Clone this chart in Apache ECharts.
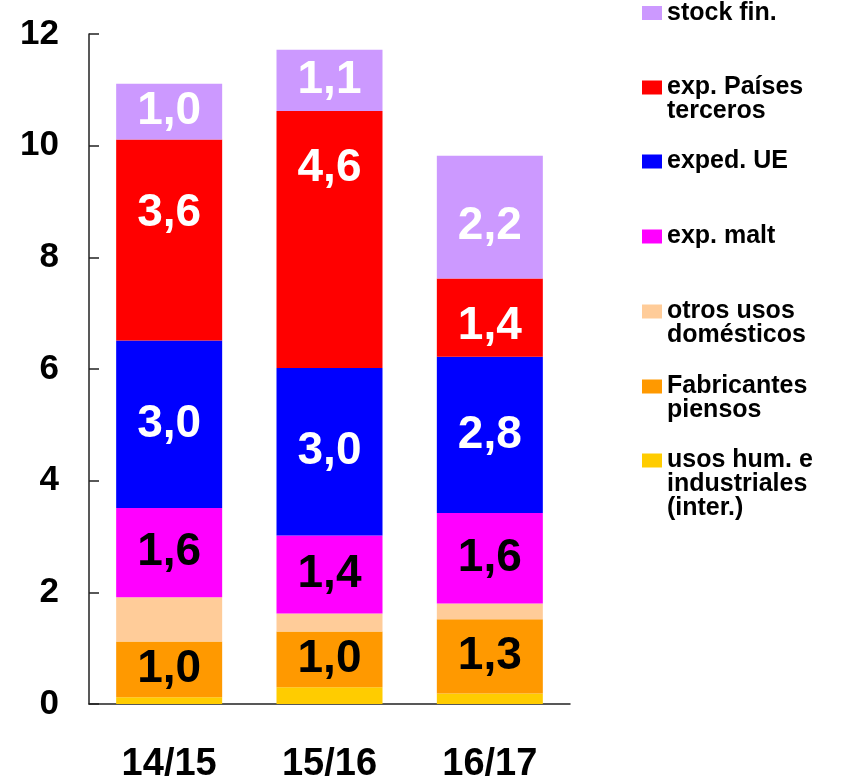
<!DOCTYPE html>
<html>
<head>
    <meta charset="utf-8" />
    <title>Balance cebada</title>
    <style>
        html, body { margin: 0; padding: 0; background: #fff; }
    </style>
</head>
<body>
    <div id="main" style="width:858px;height:780px;"></div>
    <script src="https://cdn.jsdelivr.net/npm/echarts@6/dist/echarts.min.js"></script>
    <script type="text/javascript">
        // campañas
        var campanas = ['14/15', '15/16', '16/17'];

        // series, de abajo a arriba en la pila
        var usosHum = [0.12, 0.30, 0.19];
        var fabPiensos = [1.0, 1.0, 1.33];
        var otrosUsos = [0.79, 0.32, 0.28];
        var expMalt = [1.6, 1.4, 1.62];
        var expedUE = [3.0, 3.0, 2.8];
        var expTerceros = [3.6, 4.6, 1.4];
        var stockFin = [1.0, 1.1, 2.2];

        var yTicks = [0, 2, 4, 6, 8, 10, 12];

        var fuente = "'Liberation Sans', Arial, sans-serif";

        var chartDom = document.getElementById('main');
        var myChart = echarts.init(chartDom);

        function fmt(p) {
            return p.value.toFixed(1).replace('.', ',');
        }

        // desplazamiento de algunas etiquetas (como en el original)
        var desplaz = {
            'exp. Países\nterceros': [-27, -71, 9],
            'stock fin.': [0, 0, 9]
        };

        function serie(nombre, valores, color, etiqueta, colorTexto) {
            var offs = desplaz[nombre] || [0, 0, 0];
            return {
                name: nombre,
                type: 'bar',
                stack: 'total',
                barWidth: 106,
                itemStyle: { color: color },
                label: {
                    show: etiqueta,
                    position: 'inside',
                    formatter: fmt,
                    color: colorTexto,
                    fontFamily: fuente,
                    fontWeight: 'bold',
                    fontSize: 46
                },
                data: valores.map(function (v, i) {
                    return { value: v, label: { offset: [0, offs[i]] } };
                })
            };
        }

        var series = [
            serie('usos hum. e\nindustriales\n(inter.)', usosHum, '#FFCC00', false, '#000'),
            serie('Fabricantes\npiensos', fabPiensos, '#FF9900', true, '#000'),
            serie('otros usos\ndomésticos', otrosUsos, '#FFCC99', false, '#000'),
            serie('exp. malt', expMalt, '#FF00FF', true, '#000'),
            serie('exped. UE', expedUE, '#0000FF', true, '#fff'),
            serie('exp. Países\nterceros', expTerceros, '#FF0000', true, '#fff'),
            serie('stock fin.', stockFin, '#CC99FF', true, '#fff')
        ];

        // leyenda: una por elemento, de arriba a abajo.
        // se anteponen lineas vacias para que la primera linea quede junto al cuadro
        var centrosLeyenda = [12.5, 87, 161, 236, 311, 386, 460];
        var lineaAlto = 24;
        var leyendas = series.slice().reverse().map(function (s, i) {
            var n = s.name.split('\n').length;
            var alto = lineaAlto * (2 * n - 1);
            var relleno = new Array(n).join('\n');
            return {
                data: [s.name],
                left: 642,
                top: centrosLeyenda[i] - alto / 2,
                padding: 0,
                orient: 'vertical',
                itemWidth: 20,
                itemHeight: 14,
                itemStyle: { borderWidth: 0 },
                icon: 'rect',
                selectedMode: false,
                formatter: function (name) {
                    return relleno + name;
                },
                textStyle: {
                    color: '#000',
                    fontFamily: fuente,
                    fontWeight: 'bold',
                    fontSize: 25,
                    lineHeight: lineaAlto
                }
            };
        });

        var option = {
            animation: false,
            backgroundColor: '#fff',
            legend: leyendas,
            grid: {
                left: 89,
                right: 288,
                top: 34,
                bottom: 76,
                containLabel: false,
                outerBoundsMode: 'none'
            },
            xAxis: {
                type: 'category',
                data: campanas,
                axisLine: { lineStyle: { color: '#222', width: 1.5 } },
                axisTick: { show: false },
                axisLabel: {
                    color: '#000',
                    fontFamily: fuente,
                    fontWeight: 'bold',
                    fontSize: 38,
                    margin: 42
                }
            },
            yAxis: {
                type: 'value',
                min: yTicks[0],
                max: yTicks[yTicks.length - 1],
                interval: yTicks[1] - yTicks[0],
                axisLine: { show: true, lineStyle: { color: '#222', width: 1.5 } },
                axisTick: { show: true, inside: true, length: 10, lineStyle: { color: '#222', width: 1.5 } },
                splitLine: { show: false },
                axisLabel: {
                    color: '#000',
                    fontFamily: fuente,
                    fontWeight: 'bold',
                    fontSize: 35,
                    margin: 30
                }
            },
            series: series
        };

        myChart.setOption(option);
    </script>
</body>
</html>
